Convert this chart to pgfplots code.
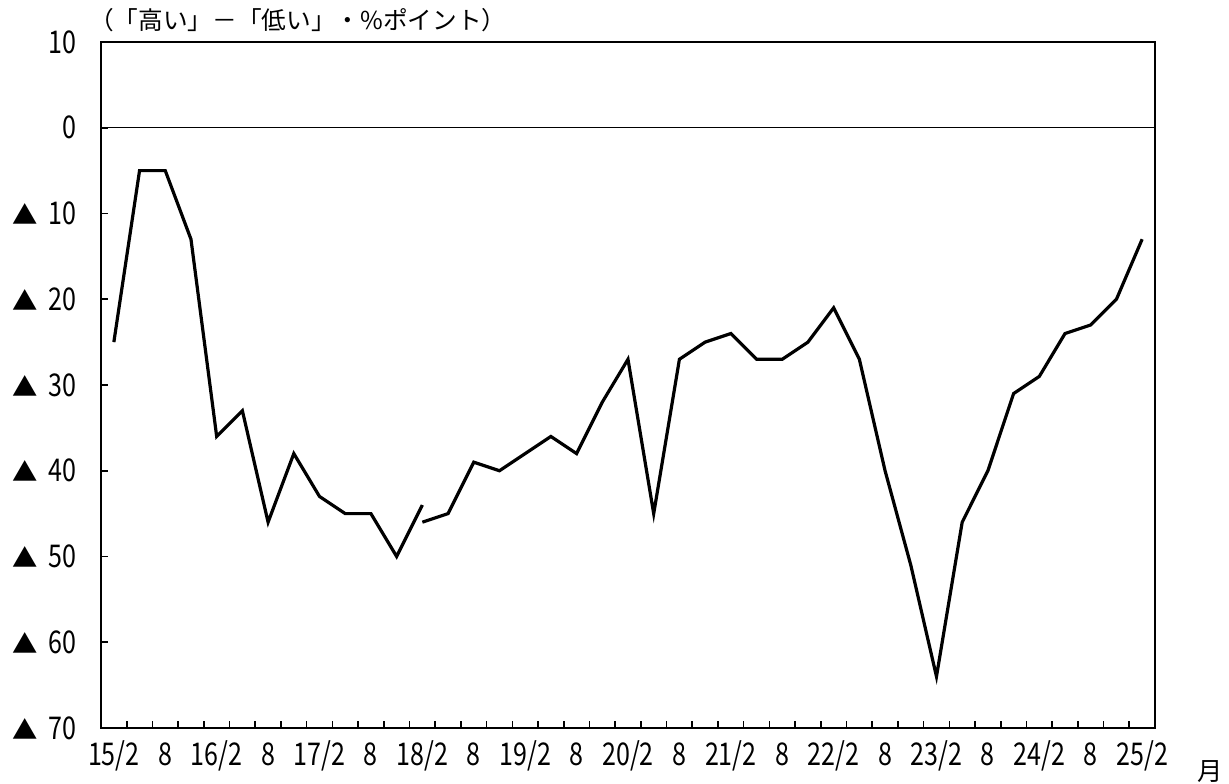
\documentclass[border=0pt]{standalone}
\usepackage{fontspec}
\setmainfont{Noto Sans CJK JP}
\newfontfamily\tickfont[FakeStretch=0.8]{Noto Sans CJK JP}
\usepackage{pgfplots}
\pgfplotsset{compat=1.18}
\newcommand{\tri}[1]{\makebox[48pt]{{\fontsize{19pt}{22pt}\selectfont\setmainfont{Noto Sans CJK JP}▲}\hfill#1}}
\begin{document}
\begin{tikzpicture}
\path[use as bounding box] (-75.75pt,-42pt) rectangle (846pt,546pt);
\begin{axis}[
  at={(0pt,0pt)}, anchor=south west,
  scale only axis, width=790.5pt, height=514.5pt,
  xmin=-0.5, xmax=40.5, ymin=-70, ymax=10,
  axis line style={line width=1.5pt},
  xtick={0,2,...,40},
  xticklabels={15/2,8,16/2,8,17/2,8,18/2,8,19/2,8,20/2,8,21/2,8,22/2,8,23/2,8,24/2,8,25/2},
  minor xtick={0.5,1.5,...,39.5},
  major x tick style={draw=none},
  minor tick length=5.25pt,
  major tick length=5.25pt,
  every tick/.style={black, line width=1.2pt},
  tick align=inside,
  xtick pos=bottom, ytick pos=left,
  ytick={-70,-60,...,10},
  yticklabels={\tri{70},\tri{60},\tri{50},\tri{40},\tri{30},\tri{20},\tri{10},0,10},
  yticklabel style={inner sep=0pt, anchor=east, xshift=-18pt, font=\tickfont\fontsize{23.5pt}{26pt}\selectfont},
  xticklabel style={inner sep=0pt, anchor=base, yshift=-28pt, font=\tickfont\fontsize{23.5pt}{26pt}\selectfont},
  /pgf/number format/assume math mode=true,
  clip=false,
]
\addplot[black, line width=1.1pt, forget plot] coordinates {(-0.5,0) (40.5,0)};
\addplot[black, line width=2.4pt] coordinates {
(0,-25) (1,-5) (2,-5) (3,-13) (4,-36) (5,-33) (6,-46) (7,-38) (8,-43) (9,-45) (10,-45) (11,-50) (12,-44)
};
\addplot[black, line width=2.4pt] coordinates {
(12,-46) (13,-45) (14,-39) (15,-40) (16,-38) (17,-36) (18,-38) (19,-32) (20,-27) (21,-45)
(22,-27) (23,-25) (24,-24) (25,-27) (26,-27) (27,-25) (28,-21) (29,-27) (30,-40) (31,-51)
(32,-64) (33,-46) (34,-40) (35,-31) (36,-29) (37,-24) (38,-23) (39,-20) (40,-13)
};
\node[anchor=west, inner sep=0pt, font=\fontsize{18.5pt}{22pt}\selectfont] at ([xshift=-9pt, yshift=16.5pt]rel axis cs:0,1) {（「高い」－「低い」・\%ポイント）};
\node[inner sep=0pt, font=\fontsize{19pt}{22pt}\selectfont] at ([xshift=41pt, yshift=-33pt]rel axis cs:1,0) {月};
\end{axis}
\end{tikzpicture}
\end{document}
